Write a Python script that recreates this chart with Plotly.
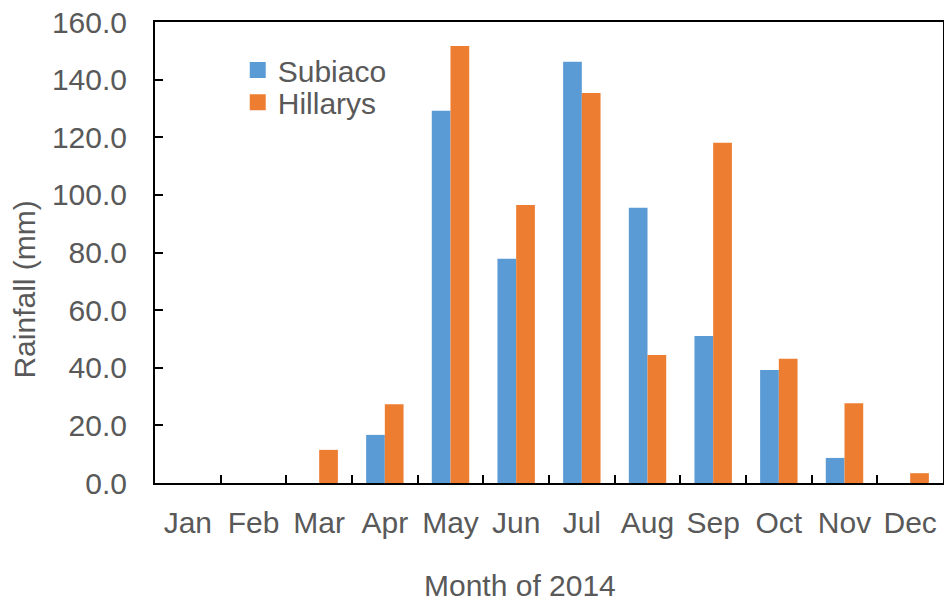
import plotly.graph_objects as go

months = ["Jan", "Feb", "Mar", "Apr", "May", "Jun", "Jul", "Aug", "Sep", "Oct", "Nov", "Dec"]
subiaco = [0.0, 0.0, 0.0, 16.7, 129.2, 77.8, 146.2, 95.5, 51.0, 39.2, 8.7, 0.0]
hillarys = [0.0, 0.0, 11.5, 27.3, 151.7, 96.5, 135.4, 44.4, 118.1, 43.1, 27.7, 3.4]

BLUE = "#5B9BD5"
ORANGE = "#ED7D31"
GREY = "#595959"
FONT = "Liberation Sans, Arial, sans-serif"
FS = 30

fig = go.Figure()
fig.add_trace(go.Bar(x=months, y=subiaco, name="Subiaco", marker=dict(color=BLUE, line=dict(width=0)),
                     showlegend=False))
fig.add_trace(go.Bar(x=months, y=hillarys, name="Hillarys", marker=dict(color=ORANGE, line=dict(width=0)),
                     showlegend=False))

# legend entries with larger square swatches, one per legend box for tight line spacing
for name, color, leg in [("Subiaco", BLUE, "legend"), ("Hillarys", ORANGE, "legend2")]:
    fig.add_trace(go.Scatter(x=[None], y=[None], mode="markers", name=name, legend=leg,
                             marker=dict(symbol="square", size=16, color=color)))

legend_style = dict(xanchor="left", yanchor="middle", bgcolor="rgba(0,0,0,0)",
                    font=dict(size=FS, color=GREY, family=FONT), itemsizing="trace")

fig.update_layout(
    width=944, height=603,
    margin=dict(l=155, r=1, t=22, b=120),
    paper_bgcolor="white", plot_bgcolor="white",
    barmode="group", bargap=0.43, bargroupgap=0,
    font=dict(family=FONT, size=FS, color=GREY),
    legend=dict(x=0.105, y=0.896, **legend_style),
    legend2=dict(x=0.105, y=0.826, **legend_style),
    xaxis=dict(
        type="category", showline=True, linecolor="black", linewidth=2,
        mirror=True, ticks="inside", ticklen=8, tickwidth=2, tickcolor="black",
        tickson="boundaries", showgrid=False, ticklabelstandoff=12,
        tickangle=0, automargin=False,
        tickfont=dict(size=FS, color=GREY),
    ),
    yaxis=dict(
        range=[0, 160], dtick=20, tickformat=".1f",
        showline=True, linecolor="black", linewidth=2, mirror=True,
        ticks="inside", ticklen=8, tickwidth=2, tickcolor="black",
        showgrid=False, zeroline=False, ticklabelstandoff=20, automargin=False,
        tickfont=dict(size=FS, color=GREY),
    ),
    annotations=[
        dict(text="Month of 2014", xref="paper", yref="paper", x=0.463, y=-0.223,
             xanchor="center", yanchor="middle", showarrow=False,
             font=dict(size=FS, color=GREY, family=FONT)),
        dict(text="Rainfall (mm)", xref="paper", yref="paper", x=-0.166, y=0.42,
             xanchor="center", yanchor="middle", showarrow=False, textangle=-90,
             font=dict(size=FS, color=GREY, family=FONT)),
    ],
)

fig.write_html("out.html")
